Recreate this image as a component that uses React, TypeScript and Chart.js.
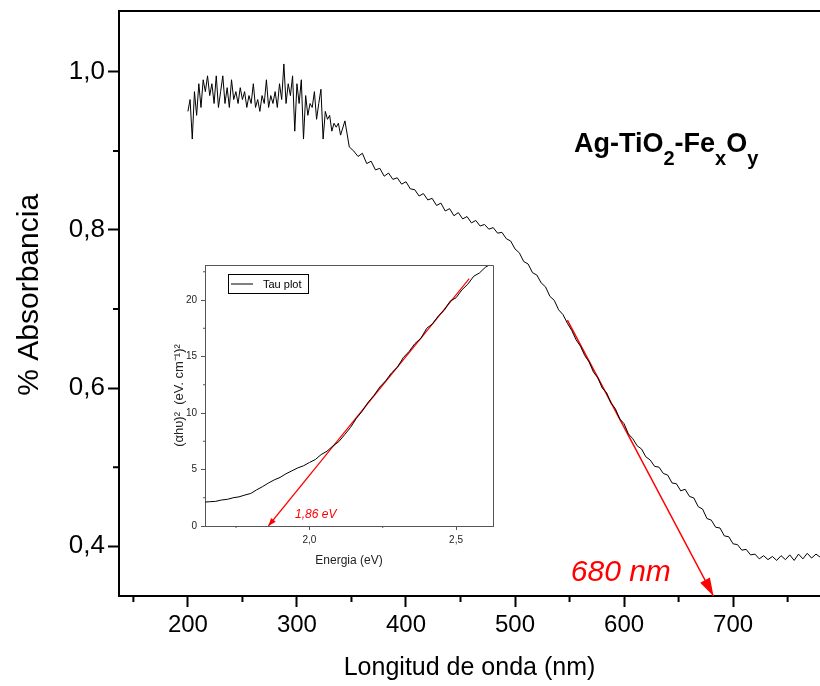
import React, { useEffect, useRef } from "react";
import { Chart, registerables } from "chart.js";

Chart.register(...registerables);

const FONT = "'Liberation Sans', Arial, Helvetica, sans-serif";

// ---- Main spectrum (wavelength nm vs absorbance) ----
const wavelength = [
  200, 202, 204, 206, 208, 210, 212, 214, 216, 218, 220, 222, 224, 226, 228, 230, 232, 234, 236, 238,
  240, 242, 244, 246, 248, 250, 252, 254, 256, 258, 260, 262, 264, 266, 268, 270, 272, 274, 276, 278,
  280, 282, 284, 286, 288, 290, 292, 294, 296, 298, 300, 302, 304, 306, 308, 310, 312, 314, 316, 318,
  320, 322, 324, 326, 328, 330, 332, 334, 336, 338, 340,
  344, 348, 352, 356, 360, 364, 368, 372, 376, 380, 384, 388, 392, 396, 400, 404, 408, 412, 416, 420,
  424, 428, 432, 436, 440, 444, 448, 452, 456, 460, 464, 468, 472, 476, 480, 484, 488, 492, 496, 500,
  504, 508, 512, 516, 520, 524, 528, 532, 536, 540, 544, 548, 552, 556, 560, 564, 568, 572, 576, 580,
  584, 588, 592, 596, 600, 604, 608, 612, 616, 620, 624, 628, 632, 636, 640, 644, 648, 652, 656, 660,
  664, 668, 672, 676, 680, 684, 688, 692, 696, 700, 704, 708, 712, 716, 720, 724, 728, 732, 736, 740,
  744, 748, 752, 756, 760, 764, 768, 772, 776, 780,
];
const absorbance = [
  0.95, 0.965, 0.915, 0.975, 0.945, 0.985, 0.955, 0.99, 0.975, 0.995, 0.97, 0.985, 0.96, 0.995, 0.955, 0.975, 0.995, 0.96, 0.98, 0.955,
  0.99, 0.965, 0.975, 0.96, 0.98, 0.965, 0.975, 0.955, 0.97, 0.96, 0.985, 0.955, 0.965, 0.95, 0.97, 0.96, 0.99, 0.955, 0.97, 0.96,
  0.975, 0.955, 0.985, 0.965, 1.01, 0.96, 0.985, 0.97, 0.995, 0.925, 0.985, 0.96, 0.99, 0.915, 0.97, 0.945, 0.96, 0.955, 0.975, 0.94,
  0.96, 0.978, 0.915, 0.95, 0.94, 0.945, 0.925, 0.935, 0.93, 0.935, 0.92,
  0.938, 0.905, 0.9, 0.893, 0.897, 0.884, 0.887, 0.876, 0.878, 0.868, 0.872, 0.864, 0.866, 0.858, 0.861, 0.852, 0.851, 0.843, 0.846, 0.838,
  0.84, 0.831, 0.834, 0.824, 0.827, 0.818, 0.822, 0.814, 0.817, 0.809, 0.812, 0.805, 0.807, 0.801, 0.803, 0.796, 0.797, 0.789, 0.786, 0.776,
  0.771, 0.76, 0.757, 0.746, 0.743, 0.733, 0.728, 0.716, 0.711, 0.699, 0.693, 0.682, 0.673, 0.661, 0.653, 0.641, 0.633, 0.62, 0.613, 0.6,
  0.594, 0.581, 0.574, 0.561, 0.555, 0.542, 0.536, 0.527, 0.523, 0.513, 0.509, 0.501, 0.5, 0.492, 0.49, 0.48, 0.479, 0.47, 0.472, 0.463,
  0.461, 0.45, 0.447, 0.435, 0.433, 0.424, 0.423, 0.413, 0.412, 0.403, 0.402, 0.395, 0.396, 0.389, 0.39, 0.384, 0.388, 0.383, 0.387, 0.382,
  0.388, 0.383, 0.389, 0.382, 0.39, 0.384, 0.391, 0.385, 0.39, 0.386,
];
const tangentX = [548, 682];
const tangentY = [0.686, 0.337];

const mainXMin = 136.8;
const mainXMax = 779.7;
const mainYMin = 0.337;
const mainYMax = 1.077;
const mainMajorX = [200, 300, 400, 500, 600, 700];
const mainMinorX = [150, 250, 350, 450, 550, 650, 750];
const mainMajorY = [0.4, 0.6, 0.8, 1.0];
const mainMinorY = [0.5, 0.7, 0.9];
const mainYTitle = "% Absorbancia";
const mainYTitleCenter = 0.718; // value at which the rotated title is centred

const sampleTitle = [
  { t: "Ag-TiO", sub: false },
  { t: "2", sub: true },
  { t: "-Fe", sub: false },
  { t: "x", sub: true },
  { t: "O", sub: false },
  { t: "y", sub: true },
];
const sampleTitlePos = { x: 554, y: 0.899 };
const gapLabel = "680 nm";
const gapLabelPos = { x: 597, y: 0.366 };

// ---- Inset Tauc plot ----
const energy = [
  1.645, 1.66, 1.68, 1.7, 1.72, 1.74, 1.76, 1.78, 1.8, 1.82, 1.84, 1.86, 1.88, 1.9, 1.92, 1.94, 1.96, 1.98, 2.0, 2.02,
  2.04, 2.06, 2.08, 2.1, 2.12, 2.14, 2.16, 2.18, 2.2, 2.22, 2.24, 2.26, 2.28, 2.3, 2.32, 2.34, 2.36, 2.38, 2.4, 2.42,
  2.44, 2.46, 2.48, 2.5, 2.52, 2.54, 2.56, 2.58, 2.6, 2.62,
];
const tau = [
  2.12, 2.15, 2.18, 2.3, 2.36, 2.5, 2.58, 2.74, 2.88, 3.2, 3.48, 3.8, 4.08, 4.3, 4.62, 4.88, 5.14, 5.33, 5.62, 5.88,
  6.32, 6.62, 7.08, 7.46, 8.08, 8.72, 9.52, 10.16, 10.94, 11.55, 12.3, 12.85, 13.55, 14.05, 14.9, 15.45, 16.15, 16.6, 17.5, 17.9,
  18.6, 19.1, 19.9, 20.2, 20.9, 21.4, 22.1, 22.4, 22.9, 23.2,
];
const fitE = [1.86, 2.545];
const fitY = [0, 21.9];
const insetXMin = 1.644;
const insetXMax = 2.626;
const insetYMin = 0;
const insetYMax = 23.1;
const insetMajorX = [2.0, 2.5];
const insetMinorX = [1.75, 2.25];
const insetMajorY = [0, 5, 10, 15, 20];
const insetMinorY = [2.5, 7.5, 12.5, 17.5, 22.5];
const insetLegendText = "Tau plot";
const gapEnergyLabel = "1,86 eV";
const gapEnergyPos = { x: 1.951, y: 0.98 };

function drawTicks(ctx: CanvasRenderingContext2D, scale: any, values: number[], len: number, axis: "x" | "y", color: string, width: number) {
  ctx.save();
  ctx.strokeStyle = color;
  ctx.lineWidth = width;
  ctx.beginPath();
  for (const v of values) {
    const p = scale.getPixelForValue(v);
    if (axis === "x") {
      ctx.moveTo(p, scale.top);
      ctx.lineTo(p, scale.top + len);
    } else {
      ctx.moveTo(scale.right, p);
      ctx.lineTo(scale.right - len, p);
    }
  }
  ctx.stroke();
  ctx.restore();
}

function arrowHead(ctx: CanvasRenderingContext2D, from: { x: number; y: number }, to: { x: number; y: number }, len: number, half: number, color: string) {
  const a = Math.atan2(to.y - from.y, to.x - from.x);
  const c = Math.cos(a);
  const s = Math.sin(a);
  ctx.save();
  ctx.fillStyle = color;
  ctx.beginPath();
  ctx.moveTo(to.x, to.y);
  ctx.lineTo(to.x - len * c + half * s, to.y - len * s - half * c);
  ctx.lineTo(to.x - len * c - half * s, to.y - len * s + half * c);
  ctx.closePath();
  ctx.fill();
  ctx.restore();
}

const mainDecor = {
  id: "mainDecor",
  afterDraw(chart: any) {
    const { ctx, chartArea } = chart;
    const xs = chart.scales.x;
    const ys = chart.scales.y;
    // top frame line
    ctx.save();
    ctx.strokeStyle = "#000";
    ctx.lineWidth = 2;
    ctx.beginPath();
    ctx.moveTo(chartArea.left - 1, chartArea.top);
    ctx.lineTo(chartArea.right, chartArea.top);
    ctx.stroke();
    ctx.restore();
    drawTicks(ctx, xs, mainMinorX, 6, "x", "#000", 2);
    drawTicks(ctx, ys, mainMinorY, 6, "y", "#000", 2);
    // y axis title
    ctx.save();
    ctx.translate(30, ys.getPixelForValue(mainYTitleCenter));
    ctx.rotate(-Math.PI / 2);
    ctx.font = `30px ${FONT}`;
    ctx.fillStyle = "#000";
    ctx.textAlign = "center";
    ctx.textBaseline = "middle";
    ctx.fillText(mainYTitle, 0, 0);
    ctx.restore();
    // arrow head of tangent
    const pts = chart.getDatasetMeta(1).data;
    arrowHead(ctx, pts[0], pts[1], 18, 5.5, "#ff0000");
    // sample label with subscripts
    ctx.save();
    let x = xs.getPixelForValue(sampleTitlePos.x);
    const base = ys.getPixelForValue(sampleTitlePos.y);
    ctx.fillStyle = "#000";
    ctx.textBaseline = "alphabetic";
    ctx.textAlign = "left";
    for (const p of sampleTitle) {
      ctx.font = p.sub ? `bold 20px ${FONT}` : `bold 27px ${FONT}`;
      ctx.fillText(p.t, x, p.sub ? base + 13 : base);
      x += ctx.measureText(p.t).width;
    }
    // 680 nm label
    ctx.font = `italic 30px ${FONT}`;
    ctx.fillStyle = "#ff0000";
    ctx.textAlign = "center";
    ctx.textBaseline = "middle";
    ctx.fillText(gapLabel, xs.getPixelForValue(gapLabelPos.x), ys.getPixelForValue(gapLabelPos.y));
    ctx.restore();
  },
};

const insetDecor = {
  id: "insetDecor",
  afterDraw(chart: any) {
    const { ctx, chartArea } = chart;
    const xs = chart.scales.x;
    const ys = chart.scales.y;
    ctx.save();
    ctx.strokeStyle = "#555";
    ctx.lineWidth = 1;
    ctx.beginPath();
    ctx.moveTo(chartArea.left, chartArea.top + 0.5);
    ctx.lineTo(chartArea.right + 0.5, chartArea.top + 0.5);
    ctx.lineTo(chartArea.right + 0.5, chartArea.bottom);
    ctx.stroke();
    ctx.restore();
    drawTicks(ctx, xs, insetMinorX, 2, "x", "#555", 1);
    drawTicks(ctx, ys, insetMinorY, 2, "y", "#555", 1);
    const pts = chart.getDatasetMeta(1).data;
    arrowHead(ctx, pts[1], pts[0], 8, 3, "#ff0000");
    // legend
    const lx = chartArea.left + 23;
    const ly = chartArea.top + 9;
    ctx.save();
    ctx.strokeStyle = "#000";
    ctx.lineWidth = 1;
    ctx.strokeRect(lx + 0.5, ly + 0.5, 80, 19);
    ctx.beginPath();
    ctx.moveTo(lx + 3, ly + 10);
    ctx.lineTo(lx + 25, ly + 10);
    ctx.stroke();
    ctx.fillStyle = "#000";
    ctx.font = `11px ${FONT}`;
    ctx.textBaseline = "middle";
    ctx.textAlign = "left";
    ctx.fillText(insetLegendText, lx + 35, ly + 10.5);
    // 1,86 eV
    ctx.fillStyle = "#ff0000";
    ctx.font = `italic 12px ${FONT}`;
    ctx.fillText(gapEnergyLabel, xs.getPixelForValue(gapEnergyPos.x), ys.getPixelForValue(gapEnergyPos.y));
    ctx.restore();
  },
};

export default function App() {
  const mainRef = useRef<HTMLCanvasElement>(null);
  const insetRef = useRef<HTMLCanvasElement>(null);

  useEffect(() => {
    const main = new Chart(mainRef.current as HTMLCanvasElement, {
      type: "line",
      data: {
        datasets: [
          {
            label: "Absorbancia",
            data: wavelength.map((x, i) => ({ x, y: absorbance[i] })),
            borderColor: "#000",
            borderWidth: 1,
            pointRadius: 0,
            tension: 0,
          },
          {
            label: "Tangente",
            data: tangentX.map((x, i) => ({ x, y: tangentY[i] })),
            borderColor: "#ff0000",
            borderWidth: 1.5,
            pointRadius: 0,
            tension: 0,
          },
        ],
      },
      options: {
        responsive: false,
        animation: false,
        devicePixelRatio: 1,
        layout: { padding: { top: 11, left: 0, right: 0, bottom: 0 } },
        plugins: { legend: { display: false }, tooltip: { enabled: false } },
        scales: {
          x: {
            type: "linear",
            min: mainXMin,
            max: mainXMax,
            afterBuildTicks: (s: any) => {
              s.ticks = mainMajorX.map((v) => ({ value: v }));
            },
            afterFit: (s: any) => {
              s.height = 90;
              s.paddingLeft = 0;
              s.paddingRight = 0;
            },
            grid: { display: true, drawOnChartArea: false, tickLength: 11, tickWidth: 2, tickColor: "#000" },
            border: { display: true, color: "#000", width: 2 },
            ticks: {
              color: "#000",
              font: { family: FONT, size: 24 },
              padding: 4,
              autoSkip: false,
              maxRotation: 0,
              callback: (v: any) => String(v),
            },
            title: {
              display: true,
              text: "Longitud de onda (nm)",
              color: "#000",
              font: { family: FONT, size: 25 },
              padding: { top: 0, bottom: 3 },
            },
          },
          y: {
            type: "linear",
            min: mainYMin,
            max: mainYMax,
            afterBuildTicks: (s: any) => {
              s.ticks = mainMajorY.map((v) => ({ value: v }));
            },
            afterFit: (s: any) => {
              s.width = 119;
              s.paddingTop = 0;
              s.paddingBottom = 0;
            },
            grid: { display: true, drawOnChartArea: false, tickLength: 11, tickWidth: 2, tickColor: "#000" },
            border: { display: true, color: "#000", width: 2 },
            ticks: {
              color: "#000",
              font: { family: FONT, size: 26 },
              padding: 3,
              callback: (v: any) => Number(v).toFixed(1).replace(".", ","),
            },
            title: { display: false },
          },
        },
      },
      plugins: [mainDecor],
    });

    const inset = new Chart(insetRef.current as HTMLCanvasElement, {
      type: "line",
      data: {
        datasets: [
          {
            label: "Tau plot",
            data: energy.map((x, i) => ({ x, y: tau[i] })),
            borderColor: "#000",
            borderWidth: 1,
            pointRadius: 0,
            tension: 0,
          },
          {
            label: "Ajuste",
            data: fitE.map((x, i) => ({ x, y: fitY[i] })),
            borderColor: "#ff0000",
            borderWidth: 1.2,
            pointRadius: 0,
            tension: 0,
          },
        ],
      },
      options: {
        responsive: false,
        animation: false,
        devicePixelRatio: 1,
        layout: { padding: { top: 10, left: 0, right: 12, bottom: 0 } },
        plugins: { legend: { display: false }, tooltip: { enabled: false } },
        scales: {
          x: {
            type: "linear",
            min: insetXMin,
            max: insetXMax,
            afterBuildTicks: (s: any) => {
              s.ticks = insetMajorX.map((v) => ({ value: v }));
            },
            afterFit: (s: any) => {
              s.height = 49;
              s.paddingLeft = 0;
              s.paddingRight = 0;
            },
            grid: { display: true, drawOnChartArea: false, tickLength: 4, tickWidth: 1, tickColor: "#555" },
            border: { display: true, color: "#555", width: 1 },
            ticks: {
              color: "#222",
              font: { family: FONT, size: 10 },
              padding: 4,
              autoSkip: false,
              maxRotation: 0,
              callback: (v: any) => Number(v).toFixed(1).replace(".", ","),
            },
            title: {
              display: true,
              text: "Energia (eV)",
              color: "#222",
              font: { family: FONT, size: 12 },
              padding: { top: 0, bottom: 7 },
            },
          },
          y: {
            type: "linear",
            min: insetYMin,
            max: insetYMax,
            afterBuildTicks: (s: any) => {
              s.ticks = insetMajorY.map((v) => ({ value: v }));
            },
            afterFit: (s: any) => {
              s.width = 35;
              s.paddingTop = 0;
              s.paddingBottom = 0;
            },
            grid: { display: true, drawOnChartArea: false, tickLength: 4, tickWidth: 1, tickColor: "#555" },
            border: { display: true, color: "#555", width: 1 },
            ticks: {
              color: "#222",
              font: { family: FONT, size: 10 },
              padding: 4,
              callback: (v: any) => String(v),
            },
            title: {
              display: true,
              text: "(αhυ)²  (eV. cm⁻¹)²",
              color: "#222",
              font: { family: FONT, size: 13 },
              padding: { top: 2, bottom: 0 },
            },
          },
        },
      },
      plugins: [insetDecor],
    });

    return () => {
      main.destroy();
      inset.destroy();
    };
  }, []);

  return (
    <div style={{ position: "absolute", left: 0, top: 0, width: 820, height: 686, background: "#fff", overflow: "hidden" }}>
      <canvas
        ref={mainRef}
        width={820}
        height={686}
        style={{ position: "absolute", left: 0, top: 0, width: 820, height: 686 }}
      />
      <canvas
        ref={insetRef}
        width={335}
        height={320}
        style={{ position: "absolute", left: 170, top: 255, width: 335, height: 320 }}
      />
    </div>
  );
}
